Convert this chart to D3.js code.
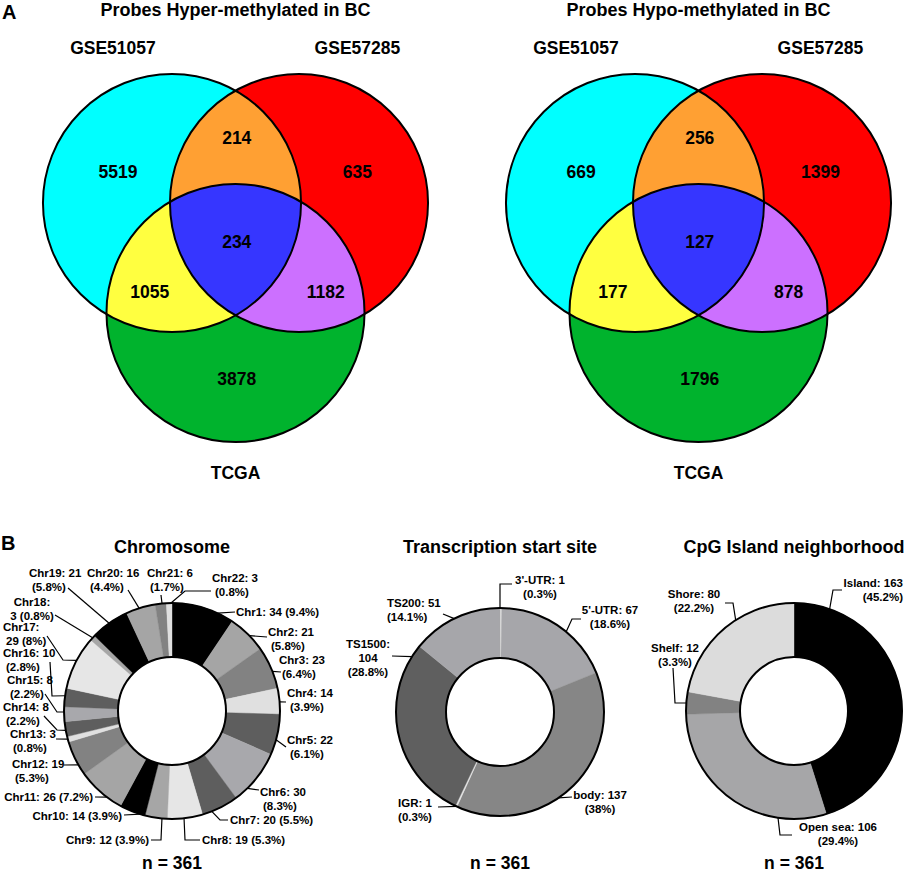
<!DOCTYPE html>
<html><head><meta charset="utf-8">
<script src="https://cdn.jsdelivr.net/npm/d3@7"></script>
<style>
html,body{margin:0;padding:0;background:#fff;}
svg{display:block;font-family:"Liberation Sans",Arial,Helvetica,sans-serif;font-weight:bold;}
</style></head><body>
<svg id="chart" width="913" height="877"></svg>
<script>
// ---------------- DATA ----------------
const vennSets = ["GSE51057", "GSE57285", "TCGA"];
const vennRegions = ["A", "B", "C", "AB", "AC", "BC", "ABC"];
const vennTitles = ["Probes Hyper-methylated in BC", "Probes Hypo-methylated in BC"];
const hyperCounts = [5519, 635, 3878, 214, 1055, 1182, 234];
const hypoCounts = [669, 1399, 1796, 256, 177, 878, 127];

const chrNames = ["Chr1","Chr2","Chr3","Chr4","Chr5","Chr6","Chr7","Chr8","Chr9","Chr10","Chr11",
                  "Chr12","Chr13","Chr14","Chr15","Chr16","Chr17","Chr18","Chr19","Chr20","Chr21","Chr22"];
const chrCounts = [34,21,23,14,22,30,20,19,12,14,26,19,3,8,8,10,29,3,21,16,6,3];
const chrPercents = ["9.4%","5.8%","6.4%","3.9%","6.1%","8.3%","5.5%","5.3%","3.9%","3.9%","7.2%",
                     "5.3%","0.8%","2.2%","2.2%","2.8%","8%","0.8%","5.8%","4.4%","1.7%","0.8%"];
const tssNames = ["3'-UTR", "5'-UTR", "body", "IGR", "TS1500", "TS200"];
const tssCounts = [1, 67, 137, 1, 104, 51];
const tssPercents = ["0.3%", "18.6%", "38%", "0.3%", "28.8%", "14.1%"];
const cpgNames = ["Island", "Open sea", "Shelf", "Shore"];
const cpgCounts = [163, 106, 12, 80];
const cpgPercents = ["45.2%", "29.4%", "3.3%", "22.2%"];
const donutTitles = ["Chromosome", "Transcription start site", "CpG Island neighborhood"];
const totalN = 361;

// ---------------- STYLE / LAYOUT ----------------
const vennFill = { A: "#00ffff", B: "#ff0000", C: "#00b32d", AB: "#ffa033", AC: "#ffff40", BC: "#cc70ff", ABC: "#3636ff" };
const chrPalette = ["#000000","#a5a5a5","#828282","#e0e0e0","#5e5e5e","#a8a8ac","#5e5e5e","#e6e6e6","#a6a6a6"];
const tssColors = ["#e2e2e2", "#a6a6aa", "#868686", "#e2e2e2", "#5f5f5f", "#a6a6aa"];
const cpgColors = ["#000000", "#a6a6a8", "#828282", "#dcdcdc"];

const svg = d3.select("#chart");
const FONT_LBL = 11.5;

// ---------- Panel letters ----------
svg.append("text").attr("x", 2).attr("y", 19).attr("font-size", 20).text("A");
svg.append("text").attr("x", 1).attr("y", 550).attr("font-size", 20).text("B");

// ---------- Venn diagrams ----------
const vennUnit = 127;
const vennCenters = { A: [-0.5, 0], B: [0.5, 0], C: [0, 0.866] };
const vennR = 1.016;
const regionPos = [[-0.925,-0.244],[0.96,-0.244],[0.01,1.38],[0.01,-0.512],[-0.675,0.7],[0.71,0.7],[0.01,0.305]];
const setLabelPos = [[-0.965,-1.225],[0.96,-1.225],[0,2.12]];
const vennOrigins = [[235.5, 203], [698.5, 203]];
const vennCounts = [hyperCounts, hypoCounts];

vennOrigins.forEach((o, gi) => {
  const x = d3.scaleLinear().domain([0, 1]).range([o[0], o[0] + vennUnit]);
  const y = d3.scaleLinear().domain([0, 1]).range([o[1], o[1] + vennUnit]);
  const rPx = x(vennR) - x(0);
  const g = svg.append("g");
  const defs = g.append("defs");
  ["A","B","C"].forEach(k => {
    defs.append("clipPath").attr("id", `clip${k}${gi}`)
      .append("circle").attr("cx", x(vennCenters[k][0])).attr("cy", y(vennCenters[k][1])).attr("r", rPx);
  });
  const circ = (sel, k, fill) => sel.append("circle")
    .attr("cx", x(vennCenters[k][0])).attr("cy", y(vennCenters[k][1])).attr("r", rPx).attr("fill", fill);
  circ(g, "A", vennFill.A);
  circ(g, "B", vennFill.B);
  circ(g, "C", vennFill.C);
  circ(g, "B", vennFill.AB).attr("clip-path", `url(#clipA${gi})`);
  circ(g, "C", vennFill.AC).attr("clip-path", `url(#clipA${gi})`);
  circ(g, "C", vennFill.BC).attr("clip-path", `url(#clipB${gi})`);
  const g3 = g.append("g").attr("clip-path", `url(#clipA${gi})`);
  circ(g3, "C", vennFill.ABC).attr("clip-path", `url(#clipB${gi})`);
  ["A","B","C"].forEach(k => circ(g, k, "none").attr("stroke", "#000").attr("stroke-width", 2));

  vennRegions.forEach((rk, i) => {
    g.append("text").attr("x", x(regionPos[i][0])).attr("y", y(regionPos[i][1]))
      .attr("dy", "0.36em").attr("text-anchor", "middle").attr("font-size", 17.5)
      .text(vennCounts[gi][i]);
  });
  vennSets.forEach((s, i) => {
    g.append("text").attr("x", x(setLabelPos[i][0])).attr("y", y(setLabelPos[i][1]))
      .attr("dy", "0.36em").attr("text-anchor", "middle").attr("font-size", 17.5).text(s);
  });
  g.append("text").attr("x", x(0)).attr("y", y(-1.52)).attr("dy", "0.36em")
    .attr("text-anchor", "middle").attr("font-size", 18).text(vennTitles[gi]);
});

// ---------- Donut charts ----------
// label line patterns: a = single line, b = "name: v" / "(p)", c = "name:" / "v (p)", d = "name:" / "v" / "(p)"
function labelLines(name, v, p, t) {
  if (t === "a") return [`${name}: ${v} (${p})`];
  if (t === "b") return [`${name}: ${v}`, `(${p})`];
  if (t === "c") return [`${name}:`, `${v} (${p})`];
  return [`${name}:`, `${v}`, `(${p})`];
}

const chrLayout = [
  {t:"a", a:"start", x:64,  y:-99,  pts:[[46,-99],[63,-99]]},
  {t:"b", a:"start", x:96,  y:-79,  pts:[[76,-74],[95,-74]]},
  {t:"b", a:"start", x:107, y:-51,  pts:[[99,-39],[109,-39]]},
  {t:"b", a:"start", x:115, y:-18,  pts:[[107,-9],[114,-9]]},
  {t:"b", a:"start", x:115, y:29,   pts:[[105,29],[114,36]]},
  {t:"b", a:"start", x:88,  y:81,   pts:[[75,77],[87,79]]},
  {t:"a", a:"start", x:58,  y:109,  pts:[[40,101],[48,109],[56,109]]},
  {t:"a", a:"start", x:30,  y:129,  pts:[[12,107],[13,129],[28,129]]},
  {t:"a", a:"end",   x:-23, y:129,  pts:[[-10,107],[-11,129],[-21,129]]},
  {t:"a", a:"end",   x:-50, y:105,  pts:[[-32,104],[-48,104]]},
  {t:"a", a:"end",   x:-79, y:86,   pts:[[-65,86],[-77,86]]},
  {t:"b", a:"start", x:-160,y:53,   pts:[[-94,54],[-108,54]]},
  {t:"b", a:"start", x:-162,y:23,   pts:[[-104,28],[-116,28]]},
  {t:"b", a:"start", x:-169,y:-4,   pts:[[-104,19],[-115,19],[-128,5]]},
  {t:"b", a:"start", x:-165,y:-31,  pts:[[-108,1],[-115,1],[-127,-17]]},
  {t:"b", a:"start", x:-169,y:-58,  pts:[[-105,-15],[-120,-15],[-122,-49]]},
  {t:"c", a:"start", x:-169,y:-84,  pts:[[-96,-51],[-109,-51],[-125,-75]]},
  {t:"c", a:"middle",x:-140,y:-109, pts:[[-78,-72],[-117,-96]]},
  {t:"b", a:"start", x:-143,y:-138, pts:[[-63,-88],[-104,-123]]},
  {t:"b", a:"start", x:-85, y:-138, pts:[[-33,-103],[-44,-121]]},
  {t:"b", a:"start", x:-25, y:-138, pts:[[-10,-108],[-11,-116]]},
  {t:"b", a:"start", x:40,  y:-133, pts:[[-1,-108],[13,-120],[39,-120]]}
];
const tssLayout = [
  {t:"b", a:"middle", x:40,   y:-132, pts:[[0,-104],[0,-128],[12,-128]]},
  {t:"b", a:"middle", x:110,  y:-102, pts:[[66,-80],[72,-93],[81,-93]]},
  {t:"b", a:"middle", x:100,  y:83,   pts:[[58,85],[72,85]]},
  {t:"b", a:"middle", x:-85,  y:91,   pts:[[-44,95],[-62,95]]},
  {t:"d", a:"middle", x:-132, y:-68,  pts:[[-89,-56],[-108,-56]]},
  {t:"b", a:"start",  x:-113, y:-109, pts:[[-46,-94],[-57,-98]]}
];
const cpgLayout = [
  {t:"b", a:"end",    x:109,  y:-128, pts:[[36,-103],[39,-121],[48,-121]]},
  {t:"b", a:"middle", x:44,   y:116,  pts:[[-16,107],[-14,124],[-2,124]]},
  {t:"b", a:"middle", x:-119, y:-63,  pts:[[-108,-8],[-119,-8],[-121,-43]]},
  {t:"b", a:"middle", x:-100, y:-117, pts:[[-59,-92],[-61,-108],[-69,-108]]}
];

const donuts = [
  {names: chrNames, counts: chrCounts, pcts: chrPercents, colors: chrCounts.map((d, i) => chrPalette[i % chrPalette.length]),
   cx: 172, cy: 711, R: 108, r: 54, layout: chrLayout, dx2: 3},
  {names: tssNames, counts: tssCounts, pcts: tssPercents, colors: tssColors,
   cx: 500, cy: 712, R: 104, r: 54, layout: tssLayout, dx2: 0},
  {names: cpgNames, counts: cpgCounts, pcts: cpgPercents, colors: cpgColors,
   cx: 794, cy: 711, R: 108, r: 54, layout: cpgLayout, dx2: 0}
];

donuts.forEach((D, di) => {
  const g = svg.append("g").attr("transform", `translate(${D.cx},${D.cy})`);
  const pie = d3.pie().sort(null).value(d => d).startAngle(0).endAngle(2 * Math.PI);
  const arcs = pie(D.counts);
  const arc = d3.arc().innerRadius(D.r).outerRadius(D.R);
  g.selectAll("path.slice").data(arcs).join("path").attr("class", "slice")
    .attr("d", arc).attr("fill", (d, i) => D.colors[i])
    .attr("stroke", (d, i) => D.colors[i]).attr("stroke-width", 0.4);
  g.append("circle").attr("r", D.R).attr("fill", "none").attr("stroke", "#000").attr("stroke-width", 2);
  g.append("circle").attr("r", D.r).attr("fill", "#fff").attr("stroke", "#000").attr("stroke-width", 2);

  // labels and leader lines
  arcs.forEach((a, i) => {
    const L = D.layout[i];
    const p0 = L.pts[0];
    const ang = Math.atan2(p0[0], -p0[1]);
    const start = [D.R * Math.sin(ang), -D.R * Math.cos(ang)];
    const pts = [start].concat(L.pts.slice(1));
    g.append("path").attr("d", d3.line()(pts)).attr("fill", "none")
      .attr("stroke", "#000").attr("stroke-width", 1.2);
    const lines = labelLines(D.names[i], D.counts[i], D.pcts[i], L.t);
    const txt = g.append("text").attr("font-size", FONT_LBL).attr("text-anchor", L.a);
    lines.forEach((s, li) => {
      txt.append("tspan").attr("x", L.x + (li > 0 && L.a === "start" ? D.dx2 : 0))
        .attr("y", L.y + li * 14).attr("dy", "0.36em").text(s);
    });
  });

  svg.append("text").attr("x", D.cx).attr("y", 547).attr("dy", "0.36em")
    .attr("text-anchor", "middle").attr("font-size", 18).text(donutTitles[di]);
  svg.append("text").attr("x", D.cx).attr("y", 863).attr("dy", "0.36em")
    .attr("text-anchor", "middle").attr("font-size", 17.5).text(`n = ${totalN}`);
});
</script>
</body></html>
